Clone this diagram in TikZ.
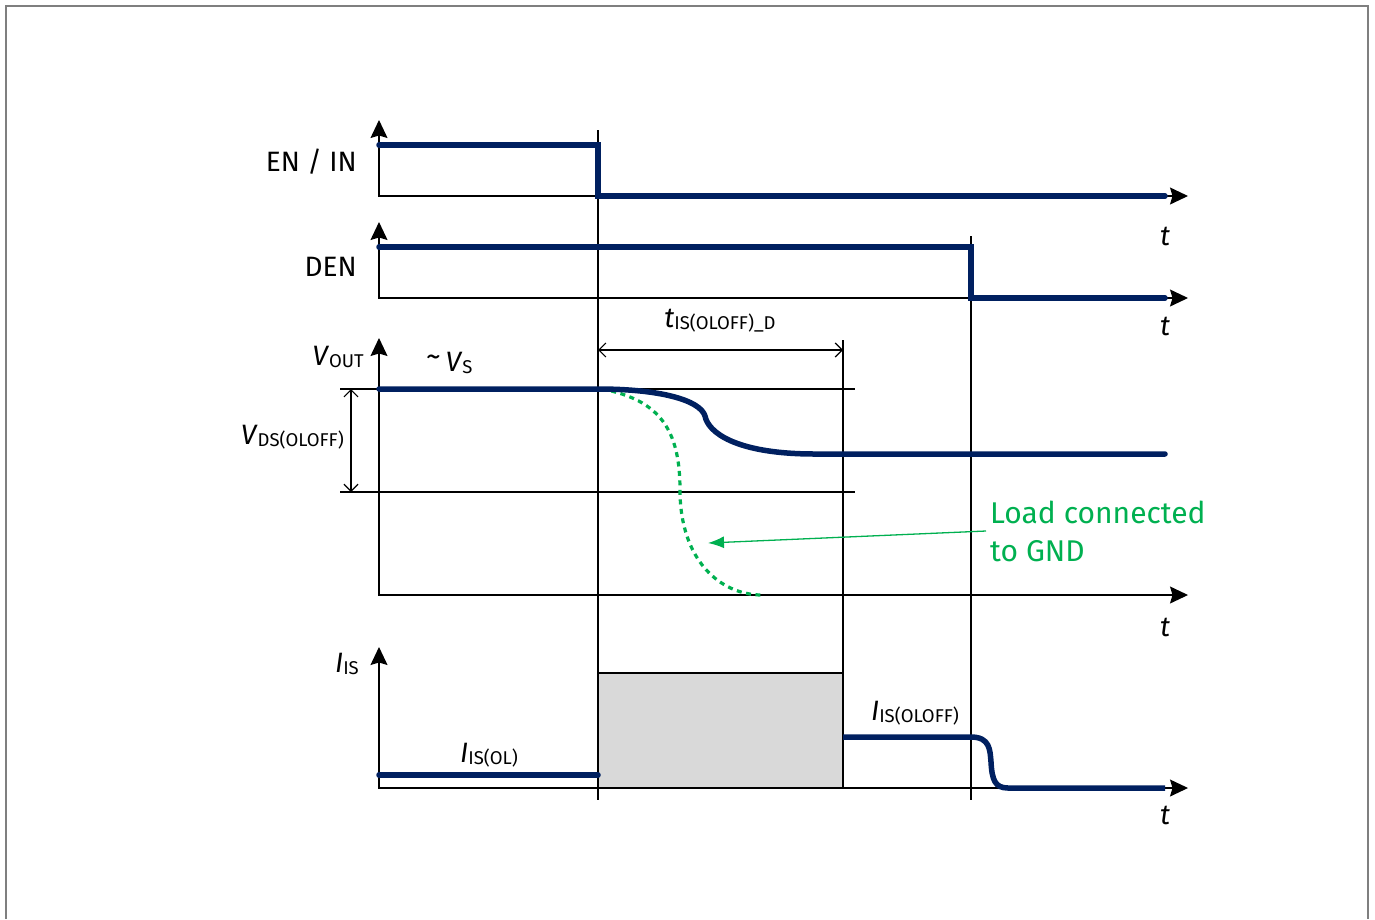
\documentclass[tikz,border=0pt]{standalone}
\usepackage{fontspec}
\setmainfont{Fira Sans}
\usetikzlibrary{arrows.meta}
\definecolor{sigblue}{HTML}{002060}
\definecolor{loadgreen}{HTML}{00B050}
\definecolor{boxgray}{HTML}{D9D9D9}
\definecolor{framegray}{HTML}{7F7F7F}
\newcommand\lsub[1]{\raisebox{-0.15ex}{\fontsize{18.5}{18.5}\selectfont #1}}
\begin{document}
\begin{tikzpicture}[x=1pt,y=-1pt,
	axis/.style={line width=1.2pt,{Stealth[length=18pt,width=17pt,inset=2.5pt]}-{Stealth[length=18pt,width=17pt,inset=2.5pt]}},
	sig/.style={line width=5.5pt,sigblue,line cap=round},
	thinline/.style={line width=1.2pt},
	dimline/.style={line width=1.2pt,{Straight Barb[length=7pt,width=14pt]}-{Straight Barb[length=7pt,width=14pt]}},
	lbl/.style={font=\fontsize{28}{38}\selectfont,inner sep=0pt}]
	\useasboundingbox (0,0) rectangle (1375,919);
	\draw[framegray,line width=2pt] (6,919)--(6,6)--(1368,6)--(1368,919);
	% axes of the four panels
	\foreach \ytop/\ybase in {120/196,222/298,338/595,647/788}
		\draw[axis] (379,\ytop) |- (1188,\ybase);
	\foreach \ty [count=\i] in {236,326,627,815}
		\node[lbl] (t\i) at (1165,\ty) {\textit{t}};
	% guide lines
	\draw[thinline] (598,130)--(598,800);
	\draw[thinline] (971,236)--(971,800);
	\draw[thinline] (843,340)--(843,788);
	\draw[thinline] (340,389)--(855,389);
	\draw[thinline] (340,492)--(855,492);
	\draw[dimline] (351,389)--(351,492);
	\draw[dimline] (598,350)--(843,350);
	\filldraw[fill=boxgray,thinline] (598,673) rectangle (843,788);
	% signals
	\draw[sig] (379,145)--(598,145)--(598,196)--(1165,196);
	\draw[sig] (379,247)--(971,247)--(971,298)--(1165,298);
	\draw[loadgreen,line width=3.2pt,dash pattern=on 5pt off 4.5pt] (602,389) .. controls (660,400) and (680,430) .. (680,490) .. controls (680,560) and (720,595) .. (762,595);
	\draw[sig] (379,389)--(598,389) .. controls (660,389) and (700,400) .. (705,416) .. controls (708,432) and (735,454) .. (815,454)--(1165,454);
	\draw[sig] (379,775)--(598,775);
	\draw[sig,line cap=butt] (843,737)--(971,737) .. controls (990,737) and (990,750) .. (991,762) .. controls (992,780) and (995,788) .. (1008,788)--(1165,788);
	% labels
	\node[lbl,anchor=east] (enin) at (357,162) {EN / IN};
	\node[lbl,anchor=east] (den) at (357,267) {DEN};
	\node[lbl,anchor=east] (vout) at (364,357) {\textit{V}\lsub{OUT}};
	\node[lbl,anchor=west] (vs) at (426,363) {\raisebox{0.35ex}{\fontsize{30}{30}\selectfont\textasciitilde}\,\textit{V}\lsub{S}};
	\node[lbl,anchor=east] (vds) at (344,437) {\textit{V}\lsub{DS(OLOFF)}};
	\node[lbl] (tis) at (720,321) {\textit{t}\lsub{IS(OLOFF)\_D}};
	\node[lbl,anchor=east] (iis) at (359,664) {\textit{I}\lsub{IS}};
	\node[lbl] (iisol) at (489,755) {\textit{I}\lsub{IS(OL)}};
	\node[lbl] (iisoloff) at (915,713) {\textit{I}\lsub{IS(OLOFF)}};
	\node[lbl,font=\fontsize{30}{38}\selectfont,anchor=west,align=left,text=loadgreen] (load) at (990,531) {Load connected\\to GND};
	\coordinate (gndtip) at (708,543);
	\draw[loadgreen,line width=1.3pt,-{Latex[length=16pt,width=12pt]}] ([xshift=-4pt]load.west)--(gndtip);
\end{tikzpicture}
\end{document}
